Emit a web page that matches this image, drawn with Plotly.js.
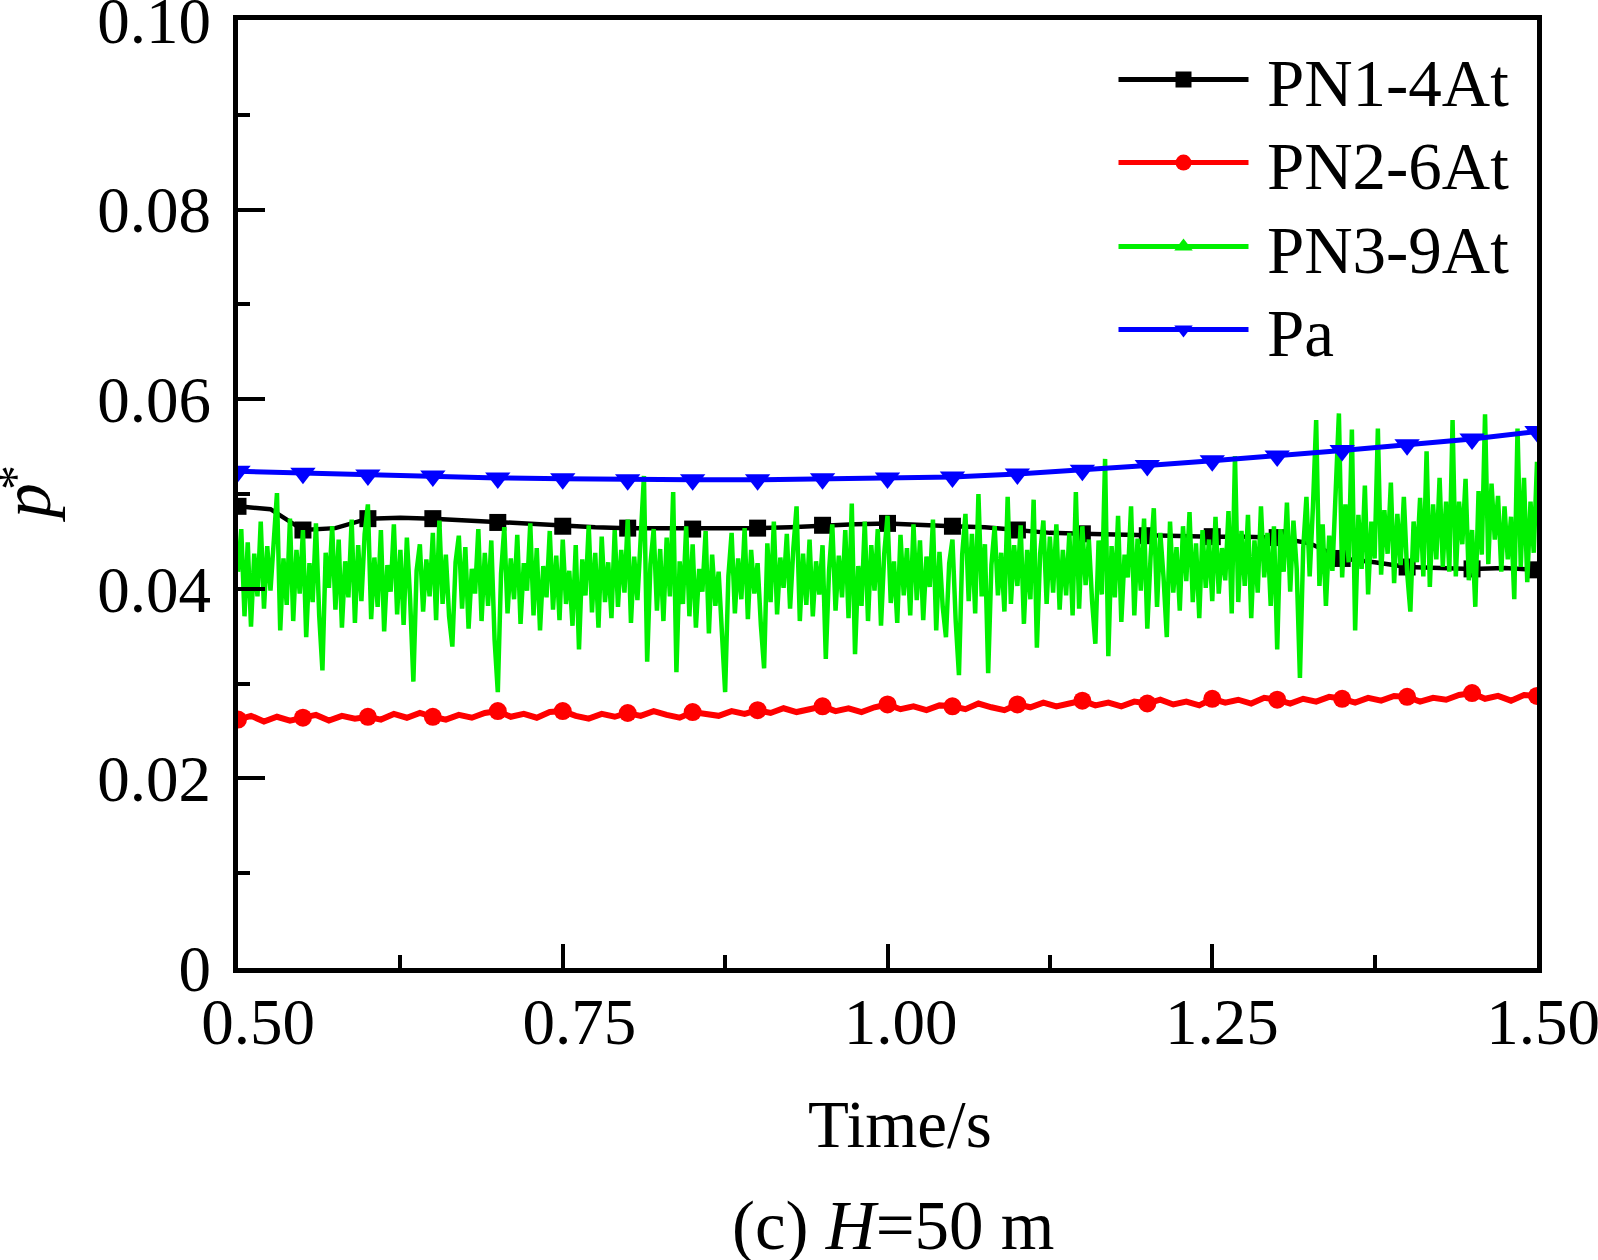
<!DOCTYPE html>
<html>
<head>
<meta charset="utf-8">
<script src="https://cdn.plot.ly/plotly-3.0.1.min.js"></script>
<style>
  body { margin: 0; background: #fff; }
  #chart { width: 1598px; height: 1260px; }
</style>
</head>
<body>
<div id="chart"></div>
<script>
// sampling grids (start, step) for each series
var tStart = 0.5;
var stepPN1 = 0.025, stepPN2 = 0.01, stepPN3 = 0.0025, stepPa = 0.05;

// PN1-4At (black)
var pn1 = [0.0487, 0.0484, 0.0462, 0.0464, 0.0474, 0.0475, 0.0474, 0.0472, 0.0470, 0.0468,
           0.0466, 0.0465, 0.0464, 0.0464, 0.0463, 0.0463, 0.0464, 0.0465, 0.0467, 0.0468,
           0.0469, 0.0467, 0.0466, 0.0465, 0.0462, 0.0459, 0.0458, 0.0457, 0.0456, 0.0456,
           0.0455, 0.0455, 0.0454, 0.0448, 0.0432, 0.0428, 0.0423, 0.0422, 0.0421, 0.0422,
           0.0420];

// PN2-6At (red)
var pn2 = [0.0262, 0.0266, 0.0260, 0.0265, 0.0261, 0.0264, 0.0267, 0.0261, 0.0266, 0.0263,
           0.0265, 0.0262, 0.0268, 0.0264, 0.0269, 0.0265, 0.0262, 0.0267, 0.0264, 0.0269,
           0.0271, 0.0265, 0.0268, 0.0264, 0.0270, 0.0271, 0.0266, 0.0263, 0.0268, 0.0265,
           0.0269, 0.0266, 0.0271, 0.0267, 0.0264, 0.0270, 0.0268, 0.0266, 0.0271, 0.0268,
           0.0272, 0.0269, 0.0274, 0.0270, 0.0273, 0.0276, 0.0271, 0.0274, 0.0270, 0.0275,
           0.0278, 0.0273, 0.0276, 0.0272, 0.0277, 0.0276, 0.0273, 0.0279, 0.0275, 0.0272,
           0.0278, 0.0275, 0.0280, 0.0276, 0.0279, 0.0282, 0.0277, 0.0280, 0.0276, 0.0281,
           0.0279, 0.0283, 0.0278, 0.0281, 0.0277, 0.0284, 0.0280, 0.0283, 0.0279, 0.0285,
           0.0283, 0.0279, 0.0284, 0.0281, 0.0286, 0.0284, 0.0280, 0.0285, 0.0282, 0.0287,
           0.0286, 0.0281, 0.0285, 0.0283, 0.0288, 0.0290, 0.0284, 0.0287, 0.0282, 0.0288,
           0.0287];

// PN3-9At (green)
var pn3 = [0.0418, 0.0463, 0.0371, 0.0449, 0.0360, 0.0437, 0.0392, 0.0471, 0.0379, 0.0445,
           0.0398, 0.0458, 0.0501, 0.0356, 0.0432, 0.0383, 0.0474, 0.0366, 0.0441, 0.0395,
           0.0462, 0.0349, 0.0427, 0.0386, 0.0469, 0.0372, 0.0314, 0.0438, 0.0401, 0.0466,
           0.0378, 0.0452, 0.0359, 0.0429, 0.0391, 0.0473, 0.0364, 0.0446, 0.0387, 0.0458,
           0.0489, 0.0368, 0.0433, 0.0381, 0.0462, 0.0355, 0.0425, 0.0397, 0.0468, 0.0373,
           0.0441, 0.0362, 0.0454, 0.0389, 0.0302, 0.0419, 0.0447, 0.0376, 0.0431, 0.0392,
           0.0459, 0.0367, 0.0472, 0.0384, 0.0436, 0.0371, 0.0339, 0.0428, 0.0456, 0.0379,
           0.0444, 0.0358, 0.0421, 0.0395, 0.0463, 0.0366, 0.0438, 0.0382, 0.0451, 0.0347,
           0.0291, 0.0416, 0.0465, 0.0374, 0.0432, 0.0389, 0.0457, 0.0363, 0.0427, 0.0398,
           0.0469, 0.0372, 0.0443, 0.0356, 0.0424, 0.0391, 0.0461, 0.0378, 0.0435, 0.0367,
           0.0452, 0.0384, 0.0419, 0.0361, 0.0446, 0.0336, 0.0431, 0.0393, 0.0467, 0.0375,
           0.0438, 0.0359, 0.0455, 0.0386, 0.0428, 0.0369, 0.0462, 0.0381, 0.0441, 0.0396,
           0.0473, 0.0364, 0.0434, 0.0388, 0.0457, 0.0519, 0.0323, 0.0426, 0.0463, 0.0377,
           0.0442, 0.0366, 0.0454, 0.0392, 0.0502, 0.0312, 0.0429, 0.0384, 0.0466, 0.0371,
           0.0447, 0.0359, 0.0421, 0.0397, 0.0461, 0.0353, 0.0436, 0.0382, 0.0418, 0.0354,
           0.0291, 0.0413, 0.0459, 0.0374, 0.0432, 0.0389, 0.0464, 0.0368, 0.0441, 0.0395,
           0.0427, 0.0362, 0.0316, 0.0448, 0.0386, 0.0471, 0.0373, 0.0433, 0.0401, 0.0458,
           0.0379, 0.0442, 0.0487, 0.0366, 0.0437, 0.0383, 0.0452, 0.0371, 0.0429, 0.0394,
           0.0446, 0.0326, 0.0419, 0.0468, 0.0377, 0.0435, 0.0391, 0.0462, 0.0369, 0.0490,
           0.0331, 0.0424, 0.0382, 0.0471, 0.0366, 0.0446, 0.0398, 0.0463, 0.0361, 0.0437,
           0.0477, 0.0385, 0.0429, 0.0364, 0.0457, 0.0393, 0.0443, 0.0372, 0.0468, 0.0388,
           0.0451, 0.0367, 0.0434, 0.0402, 0.0473, 0.0356, 0.0439, 0.0381, 0.0349, 0.0427,
           0.0452, 0.0366, 0.0309, 0.0436, 0.0479, 0.0387, 0.0458, 0.0374, 0.0500, 0.0392,
           0.0447, 0.0311, 0.0425, 0.0466, 0.0393, 0.0438, 0.0376, 0.0497, 0.0384, 0.0446,
           0.0403, 0.0467, 0.0363, 0.0441, 0.0389, 0.0494, 0.0338, 0.0437, 0.0472, 0.0384,
           0.0455, 0.0396, 0.0468, 0.0378, 0.0441, 0.0393, 0.0459, 0.0372, 0.0502, 0.0379,
           0.0466, 0.0404, 0.0452, 0.0387, 0.0342, 0.0451, 0.0394, 0.0537, 0.0329, 0.0445,
           0.0391, 0.0477, 0.0365, 0.0436, 0.0412, 0.0487, 0.0372, 0.0453, 0.0398, 0.0474,
           0.0358, 0.0433, 0.0485, 0.0381, 0.0459, 0.0412, 0.0349, 0.0471, 0.0396, 0.0444,
           0.0377, 0.0466, 0.0408, 0.0481, 0.0386, 0.0448, 0.0369, 0.0462, 0.0401, 0.0452,
           0.0387, 0.0476, 0.0395, 0.0443, 0.0409, 0.0482, 0.0374, 0.0540, 0.0386, 0.0461,
           0.0403, 0.0478, 0.0369, 0.0451, 0.0396, 0.0487, 0.0412, 0.0459, 0.0382, 0.0466,
           0.0336, 0.0463, 0.0418, 0.0491, 0.0397, 0.0472, 0.0421, 0.0306, 0.0442, 0.0497,
           0.0413, 0.0486, 0.0578, 0.0403, 0.0468, 0.0382, 0.0456, 0.0419, 0.0503, 0.0585,
           0.0412, 0.0489, 0.0428, 0.0568, 0.0356, 0.0478, 0.0421, 0.0509, 0.0394, 0.0471,
           0.0432, 0.0569, 0.0415, 0.0483, 0.0437, 0.0512, 0.0406, 0.0479, 0.0425, 0.0497,
           0.0418, 0.0376, 0.0471, 0.0428, 0.0496, 0.0413, 0.0545, 0.0402, 0.0489, 0.0431,
           0.0517, 0.0423, 0.0492, 0.0418, 0.0578, 0.0413, 0.0492, 0.0447, 0.0516, 0.0409,
           0.0462, 0.0381, 0.0503, 0.0436, 0.0584, 0.0426, 0.0511, 0.0452, 0.0498, 0.0418,
           0.0487, 0.0431, 0.0476, 0.0389, 0.0569, 0.0423, 0.0517, 0.0407, 0.0492, 0.0438,
           0.0534];

// Pa (blue)
var pa = [0.0524, 0.0522, 0.0520, 0.0519, 0.0517, 0.0516, 0.0515, 0.0515, 0.0515, 0.0516,
          0.0517, 0.0518, 0.0521, 0.0525, 0.0530, 0.0535, 0.0540, 0.0546, 0.0552, 0.0558,
          0.0566];

var seriesNames = ['PN1-4At', 'PN2-6At', 'PN3-9At', 'Pa'];
var xTickVals = [0.5, 0.75, 1.0, 1.25, 1.5];
var xTickText = ['0.50', '0.75', '1.00', '1.25', '1.50'];
var yTickVals = [0, 0.02, 0.04, 0.06, 0.08, 0.10];
var yTickText = ['0', '0.02', '0.04', '0.06', '0.08', '0.10'];

var W = 1598, H = 1260;
var M = {l: 238, r: 55, t: 20, b: 292};
var plotW = W - M.l - M.r, plotH = H - M.t - M.b;
var frameRight = 1537;            // right edge of the drawn frame (px)
var labelFirst = 258, labelLast = 1543; // x label centres of 0.50 and 1.50 (px)

function paperX(px) { return (px - M.l) / plotW; }
function paperY(py) { return (H - M.b - py) / plotH; }

function timeGrid(n, step) {
  var out = [];
  for (var i = 0; i < n; i++) out.push(+(tStart + i * step).toFixed(4));
  return out;
}

// keep every k-th point, used for the sparse symbols
function every(arr, k) {
  return arr.filter(function (v, i) { return i % k === 0; });
}

var FONT = 'Liberation Serif, Times New Roman, serif';

var colors = ['#000000', '#ff0000', '#00f000', '#0000ff'];
var symbols = ['square', 'circle', 'triangle-up', 'triangle-down'];
var sizes = [17, 18, 18, 22];
var values = [pn1, pn2, pn3, pa];
var steps = [stepPN1, stepPN2, stepPN3, stepPa];
var markEvery = [2, 5, 0, 1];
var widths = [4.5, 6, 4.5, 5];

var data = [];
values.forEach(function (ys, s) {
  var xs = timeGrid(ys.length, steps[s]);
  data.push({
    x: xs, y: ys, type: 'scatter', mode: 'lines',
    line: {color: colors[s], width: widths[s]},
    showlegend: false, hoverinfo: 'skip'
  });
  if (markEvery[s] > 0) {
    data.push({
      x: every(xs, markEvery[s]), y: every(ys, markEvery[s]),
      type: 'scatter', mode: 'markers',
      marker: {symbol: symbols[s], size: sizes[s], color: colors[s]},
      showlegend: false, hoverinfo: 'skip'
    });
  }
});

// legend entries, one legend box per row so the rows can be spaced like the original
var legendRowsPx = [80, 163, 247, 330];
var legendIds = ['legend', 'legend2', 'legend3', 'legend4'];
seriesNames.forEach(function (name, s) {
  data.push({
    x: [null], y: [null], type: 'scatter', mode: 'lines+markers',
    name: '\u2009' + name, legend: legendIds[s],
    line: {color: colors[s], width: 5},
    marker: {symbol: symbols[s], size: sizes[s], color: colors[s]}
  });
});

// carrier for the label-only axis
data.push({x: [null], y: [null], xaxis: 'x2', yaxis: 'y', showlegend: false, hoverinfo: 'skip'});

// label axis: its own scale so the labels sit where the original puts them
var labelScale = (labelLast - labelFirst) / (xTickVals[4] - xTickVals[0]);
var x2Range = [xTickVals[0] - (labelFirst - M.l) / labelScale, xTickVals[4]];

var layout = {
  width: W, height: H,
  margin: M,
  paper_bgcolor: '#fff', plot_bgcolor: 'rgba(0,0,0,0)',
  font: {family: FONT, size: 65, color: '#000'},
  showlegend: true,
  xaxis: {
    domain: [0, (frameRight - M.l) / plotW], anchor: 'y',
    range: [0.5, 1.5], showgrid: false, zeroline: false,
    showline: true, linecolor: '#000', linewidth: 5, mirror: true,
    ticks: 'inside', ticklen: 24, tickwidth: 4, tickcolor: '#000',
    tickvals: xTickVals, showticklabels: false,
    minor: {dtick: 0.125, ticks: 'inside', ticklen: 13, tickwidth: 4, tickcolor: '#000', showgrid: false}
  },
  xaxis2: {
    domain: [0, 1], anchor: 'y', side: 'bottom',
    range: x2Range, showgrid: false, zeroline: false, showline: false, ticks: '',
    tickvals: xTickVals, ticktext: xTickText,
    tickfont: {family: FONT, size: 65},
    ticklabelstandoff: 10, ticklabeloverflow: 'allow'
  },
  yaxis: {
    anchor: 'x',
    range: [0, 0.1], showgrid: false, zeroline: false,
    showline: true, linecolor: '#000', linewidth: 5, mirror: true,
    ticks: 'inside', ticklen: 27, tickwidth: 4, tickcolor: '#000',
    tickvals: yTickVals, ticktext: yTickText,
    tickfont: {family: FONT, size: 65},
    ticklabelstandoff: 9, ticklabeloverflow: 'allow',
    minor: {dtick: 0.01, ticks: 'inside', ticklen: 12, tickwidth: 4, tickcolor: '#000', showgrid: false}
  },
  annotations: [{
    // y axis title: italic p with a small raised asterisk
    text: '<i>p</i>', xref: 'paper', yref: 'paper', textangle: -90,
    x: paperX(26), y: paperY(503), xanchor: 'center', yanchor: 'middle',
    showarrow: false, font: {family: FONT, size: 70}
  }, {
    text: '*', xref: 'paper', yref: 'paper', textangle: -90,
    x: paperX(15), y: paperY(478), xanchor: 'center', yanchor: 'middle',
    showarrow: false, font: {family: FONT, size: 50}
  }, {
    text: 'Time/s', xref: 'paper', yref: 'paper',
    x: paperX(900), y: paperY(1124), xanchor: 'center', yanchor: 'middle',
    showarrow: false, font: {family: FONT, size: 67}
  }, {
    text: '(c) <i>H</i>=50 m', xref: 'paper', yref: 'paper',
    x: paperX(894), y: paperY(1226), xanchor: 'center', yanchor: 'middle',
    showarrow: false, font: {family: FONT, size: 69}
  }]
};

legendIds.forEach(function (id, s) {
  layout[id] = {
    x: paperX(1113.5), y: paperY(legendRowsPx[s]), xanchor: 'left', yanchor: 'middle',
    bgcolor: 'rgba(0,0,0,0)', borderwidth: 0,
    font: {family: FONT, size: 67},
    itemwidth: 130
  };
});

Plotly.newPlot('chart', data, layout, {displayModeBar: false, staticPlot: true});
</script>
</body>
</html>
